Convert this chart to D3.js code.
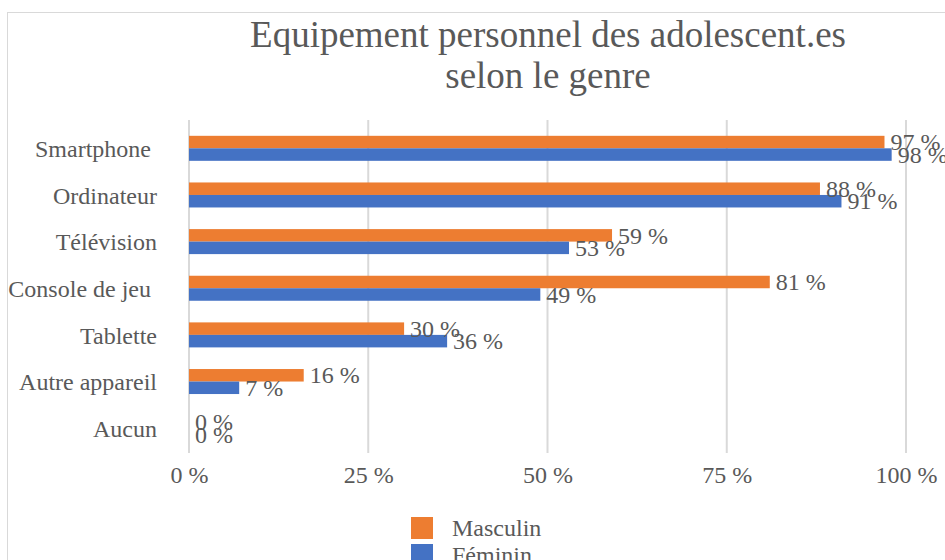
<!DOCTYPE html>
<html>
<head>
<meta charset="utf-8">
<script src="https://cdn.jsdelivr.net/npm/d3@7"></script>
<style>
  html, body { margin: 0; padding: 0; background: #ffffff; }
  svg text { font-family: "Liberation Serif", "Times New Roman", serif; fill: #595959; white-space: pre; }
</style>
</head>
<body>
<svg id="chart" width="945" height="560"></svg>
<script>
const categories = ["Smartphone ", "Ordinateur", "Télévision", "Console de jeu ", "Tablette", "Autre appareil", "Aucun"];
const masculin = [97, 88, 59, 81, 30, 16, 0];
const feminin = [98, 91, 53, 49, 36, 7, 0];
const seriesNames = ["Masculin", "Féminin"];
const seriesColors = ["#ED7D31", "#4472C4"];
const xTicks = [0, 25, 50, 75, 100];
const titleLines = ["Equipement personnel des adolescent.es", "selon le genre"];

const svg = d3.select("#chart");

// chart border (extends beyond the visible window)
svg.append("rect")
  .attr("x", 7.5).attr("y", 12.5)
  .attr("width", 1200).attr("height", 700)
  .attr("fill", "#ffffff")
  .attr("stroke", "#d9d9d9").attr("stroke-width", 1);

const x = d3.scaleLinear().domain([0, 100]).range([189, 906]);
const y = d3.scaleBand().domain(categories).range([125, 451.5]).paddingInner(0).paddingOuter(0);
const barH = 12.5;

// gridlines
svg.append("g").selectAll("line")
  .data(xTicks)
  .join("line")
  .attr("x1", d => x(d)).attr("x2", d => x(d))
  .attr("y1", 120).attr("y2", 453)
  .attr("stroke", "#d9d9d9").attr("stroke-width", 2);

// x axis tick labels via d3 axis
const xAxis = d3.axisBottom(x).tickValues(xTicks).tickSize(0).tickPadding(0)
  .tickFormat(d => d + " %");
const gx = svg.append("g").attr("transform", "translate(0,466)").call(xAxis);
gx.select(".domain").remove();
gx.selectAll("text")
  .attr("font-size", 24)
  .attr("dy", "0.71em")
  .attr("y", 0)
  .style("font-family", '"Liberation Serif", "Times New Roman", serif')
  .attr("fill", "#595959");

// category labels via d3 axis
const yAxis = d3.axisLeft(y).tickSize(0).tickPadding(0);
const gy = svg.append("g").attr("transform", "translate(157,0)").call(yAxis);
gy.select(".domain").remove();
gy.selectAll("text")
  .attr("font-size", 24)
  .attr("dy", "0.36em")
  .attr("x", 0)
  .style("font-family", '"Liberation Serif", "Times New Roman", serif')
  .attr("fill", "#595959");

const series = [masculin, feminin];
series.forEach((vals, si) => {
  const g = svg.append("g");
  g.selectAll("rect")
    .data(vals)
    .join("rect")
    .attr("x", x(0))
    .attr("y", (d, i) => y(categories[i]) + y.bandwidth() / 2 - barH + si * barH)
    .attr("width", d => x(d) - x(0))
    .attr("height", barH)
    .attr("fill", seriesColors[si]);
});

series.forEach((vals, si) => {
  const g = svg.append("g");
  g.selectAll("text")
    .data(vals)
    .join("text")
    .attr("x", d => x(d) + 6)
    .attr("y", (d, i) => y(categories[i]) + y.bandwidth() / 2 - barH / 2 + si * barH)
    .attr("dy", "0.34em")
    .attr("font-size", 24)
    .text(d => d + " %");
});

// title
svg.append("g").selectAll("text")
  .data(titleLines)
  .join("text")
  .attr("x", 548)
  .attr("y", (d, i) => 47 + i * 41)
  .attr("text-anchor", "middle")
  .attr("font-size", 37)
  .text(d => d);

// legend
const leg = svg.append("g");
seriesNames.forEach((name, i) => {
  leg.append("rect")
    .attr("x", 411).attr("y", 517 + i * 27)
    .attr("width", 22).attr("height", 22)
    .attr("fill", seriesColors[i]);
  leg.append("text")
    .attr("x", 452).attr("y", 536 + i * 27)
    .attr("font-size", 24)
    .text(name);
});
</script>
</body>
</html>
